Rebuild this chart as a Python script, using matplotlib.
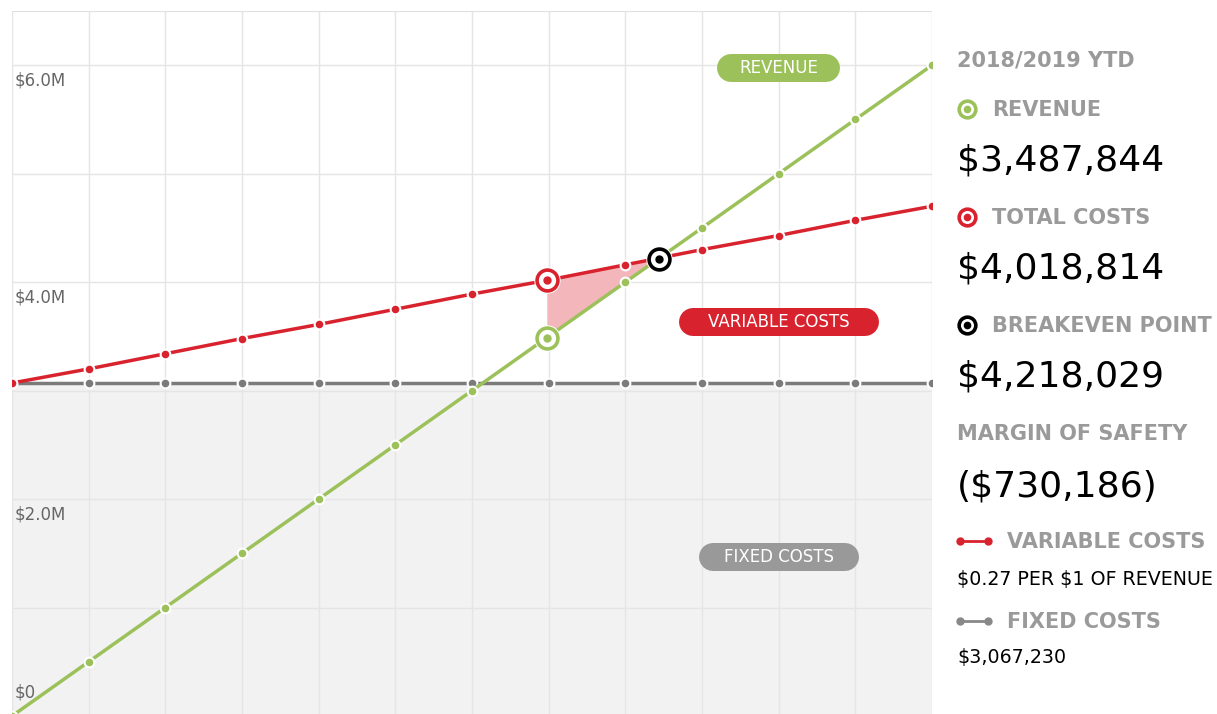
import numpy as np
import matplotlib.pyplot as plt
from matplotlib.lines import Line2D

plt.rcParams["font.family"] = ["DejaVu Sans"]
plt.rcParams["text.parse_math"] = False

# données (en millions $) - l'axe x = niveau de revenu
revenue_levels = [0.0, 0.5, 1.0, 1.5, 2.0, 2.5, 3.0, 3.5, 4.0, 4.5, 5.0, 5.5, 6.0]
revenue = [0.0, 0.5, 1.0, 1.5, 2.0, 2.5, 3.0, 3.5, 4.0, 4.5, 5.0, 5.5, 6.0]
total_costs = [3.07, 3.20, 3.34, 3.48, 3.61, 3.75, 3.89, 4.02, 4.16, 4.30, 4.43, 4.57, 4.70]
fixed_costs = [3.07] * 13

ytd_revenue = 3.487844
ytd_total_costs = 4.018814
breakeven = 4.218029
fixed_value = 3.067230

y_ticks = [0, 1, 2, 3, 4, 5, 6]
y_tick_labels = {0: "$0", 2: "$2.0M", 4: "$4.0M", 6: "$6.0M"}

panel_rows = [
    ("2018/2019 YTD", "head", None),
    ("REVENUE", "head", "green"),
    ("$3,487,844", "big", None),
    ("TOTAL COSTS", "head", "red"),
    ("$4,018,814", "big", None),
    ("BREAKEVEN POINT", "head", "black"),
    ("$4,218,029", "big", None),
    ("MARGIN OF SAFETY", "head", None),
    ("($730,186)", "big", None),
    ("VARIABLE COSTS", "head", "redline"),
    ("$0.27 PER $1 OF REVENUE", "small", None),
    ("FIXED COSTS", "head", "grayline"),
    ("$3,067,230", "small", None),
]
panel_y = [59, 109, 158, 217, 266, 325, 374, 433, 483, 541, 578, 621, 657]

GREEN = "#9cc15a"
RED = "#d8232e"
GRAY = "#7b7b7b"
LIGHT = "#9a9a9a"

W, H = 1217, 714
fig = plt.figure(figsize=(W / 100, H / 100), dpi=100)
ax = fig.add_axes([12 / W, -2 / H, 920 / W, 705 / H])
ax.set_xlim(0, 6.0)
ax.set_ylim(0, 6.5)

# zone coûts fixes
ax.fill_between([0, 6.0], 0, fixed_value, color="#f2f2f2", zorder=0, lw=0)

# grille
for x in revenue_levels:
    ax.axvline(x, color="#e5e5e5", lw=1, zorder=1)
for y in y_ticks:
    ax.axhline(y, color="#e5e5e5", lw=1, zorder=1)
ax.axhline(6.5, color="#e0e0e0", lw=1.5, zorder=1)
ax.set_xticks([])
ax.set_yticks([])
for s in ax.spines.values():
    s.set_visible(False)

for y, lab in y_tick_labels.items():
    yy = y if y > 0 else 0.22
    ax.annotate(lab, (0, yy), xytext=(3, -15 if y > 0 else 0), textcoords="offset pixels",
                fontsize=12, color="#666666", va="center", ha="left", zorder=5)

# zone rose entre revenu et coûts totaux
xs = [ytd_revenue, 4.0, breakeven]
lo = [ytd_revenue, 4.0, breakeven]
hi = [ytd_total_costs, 4.16, breakeven]
ax.fill_between(xs, lo, hi, color="#f3b6ba", lw=0, zorder=2)

mk = dict(marker="o", markersize=7, markeredgecolor="white", markeredgewidth=1.5)
ax.plot(revenue_levels, fixed_costs, color=GRAY, lw=2.5, zorder=3, markerfacecolor=GRAY, **mk)
ax.plot(revenue_levels, total_costs, color=RED, lw=2.5, zorder=4, markerfacecolor=RED, **mk)
ax.plot(revenue_levels, revenue, color=GREEN, lw=2.5, zorder=4, markerfacecolor=GREEN, **mk)


def ring(a, x, y, color, size=15, inner=5, zorder=6):
    a.plot([x], [y], marker="o", markersize=size + 3, color="white", zorder=zorder, clip_on=False)
    a.plot([x], [y], marker="o", markersize=size, markerfacecolor="white",
           markeredgecolor=color, markeredgewidth=2.6, zorder=zorder, clip_on=False)
    a.plot([x], [y], marker="o", markersize=inner, color=color, zorder=zorder, clip_on=False)


ring(ax, ytd_revenue, ytd_total_costs, RED)
ring(ax, ytd_revenue, ytd_revenue, GREEN)
ring(ax, breakeven, breakeven, "black")

# étiquettes en pilule (trait épais à bouts ronds)
pills = [("REVENUE", 5.0, 5.975, 0.31, GREEN), ("VARIABLE COSTS", 5.0, 3.63, 0.56, RED),
         ("FIXED COSTS", 5.0, 1.47, 0.43, "#999999")]
for txt, x, y, half, c in pills:
    ax.plot([x - half, x + half], [y, y], color=c, lw=28 * 0.72, solid_capstyle="round", zorder=7)
    ax.text(x, y, txt, color="white", fontsize=12, ha="center", va="center", zorder=8)

# panneau de droite
pax = fig.add_axes([0, 0, 1, 1])
pax.set_xlim(0, W)
pax.set_ylim(H, 0)
pax.axis("off")
pax.patch.set_alpha(0)

for (txt, kind, icon), y in zip(panel_rows, panel_y):
    x = 957 if icon is None else (992 if icon in ("green", "red", "black") else 1007)
    if kind == "head":
        pax.text(x, y + 7.5, txt, fontsize=15, fontweight="bold", color=LIGHT, va="baseline", ha="left")
    elif kind == "big":
        pax.text(957, y + 13, txt, fontsize=26, color="black", va="baseline", ha="left")
    else:
        pax.text(957, y + 6.5, txt, fontsize=13.7, color="black", va="baseline", ha="left")
    if icon in ("green", "red", "black"):
        c = {"green": GREEN, "red": RED, "black": "black"}[icon]
        ring(pax, 967, y, c, size=12, inner=4.5)
    elif icon in ("redline", "grayline"):
        c = RED if icon == "redline" else "#888888"
        pax.add_line(Line2D([960, 988], [y, y], color=c, lw=2, marker="o", markersize=5,
                            markevery=[0, 1]))

fig.savefig("out.png", dpi=100)
